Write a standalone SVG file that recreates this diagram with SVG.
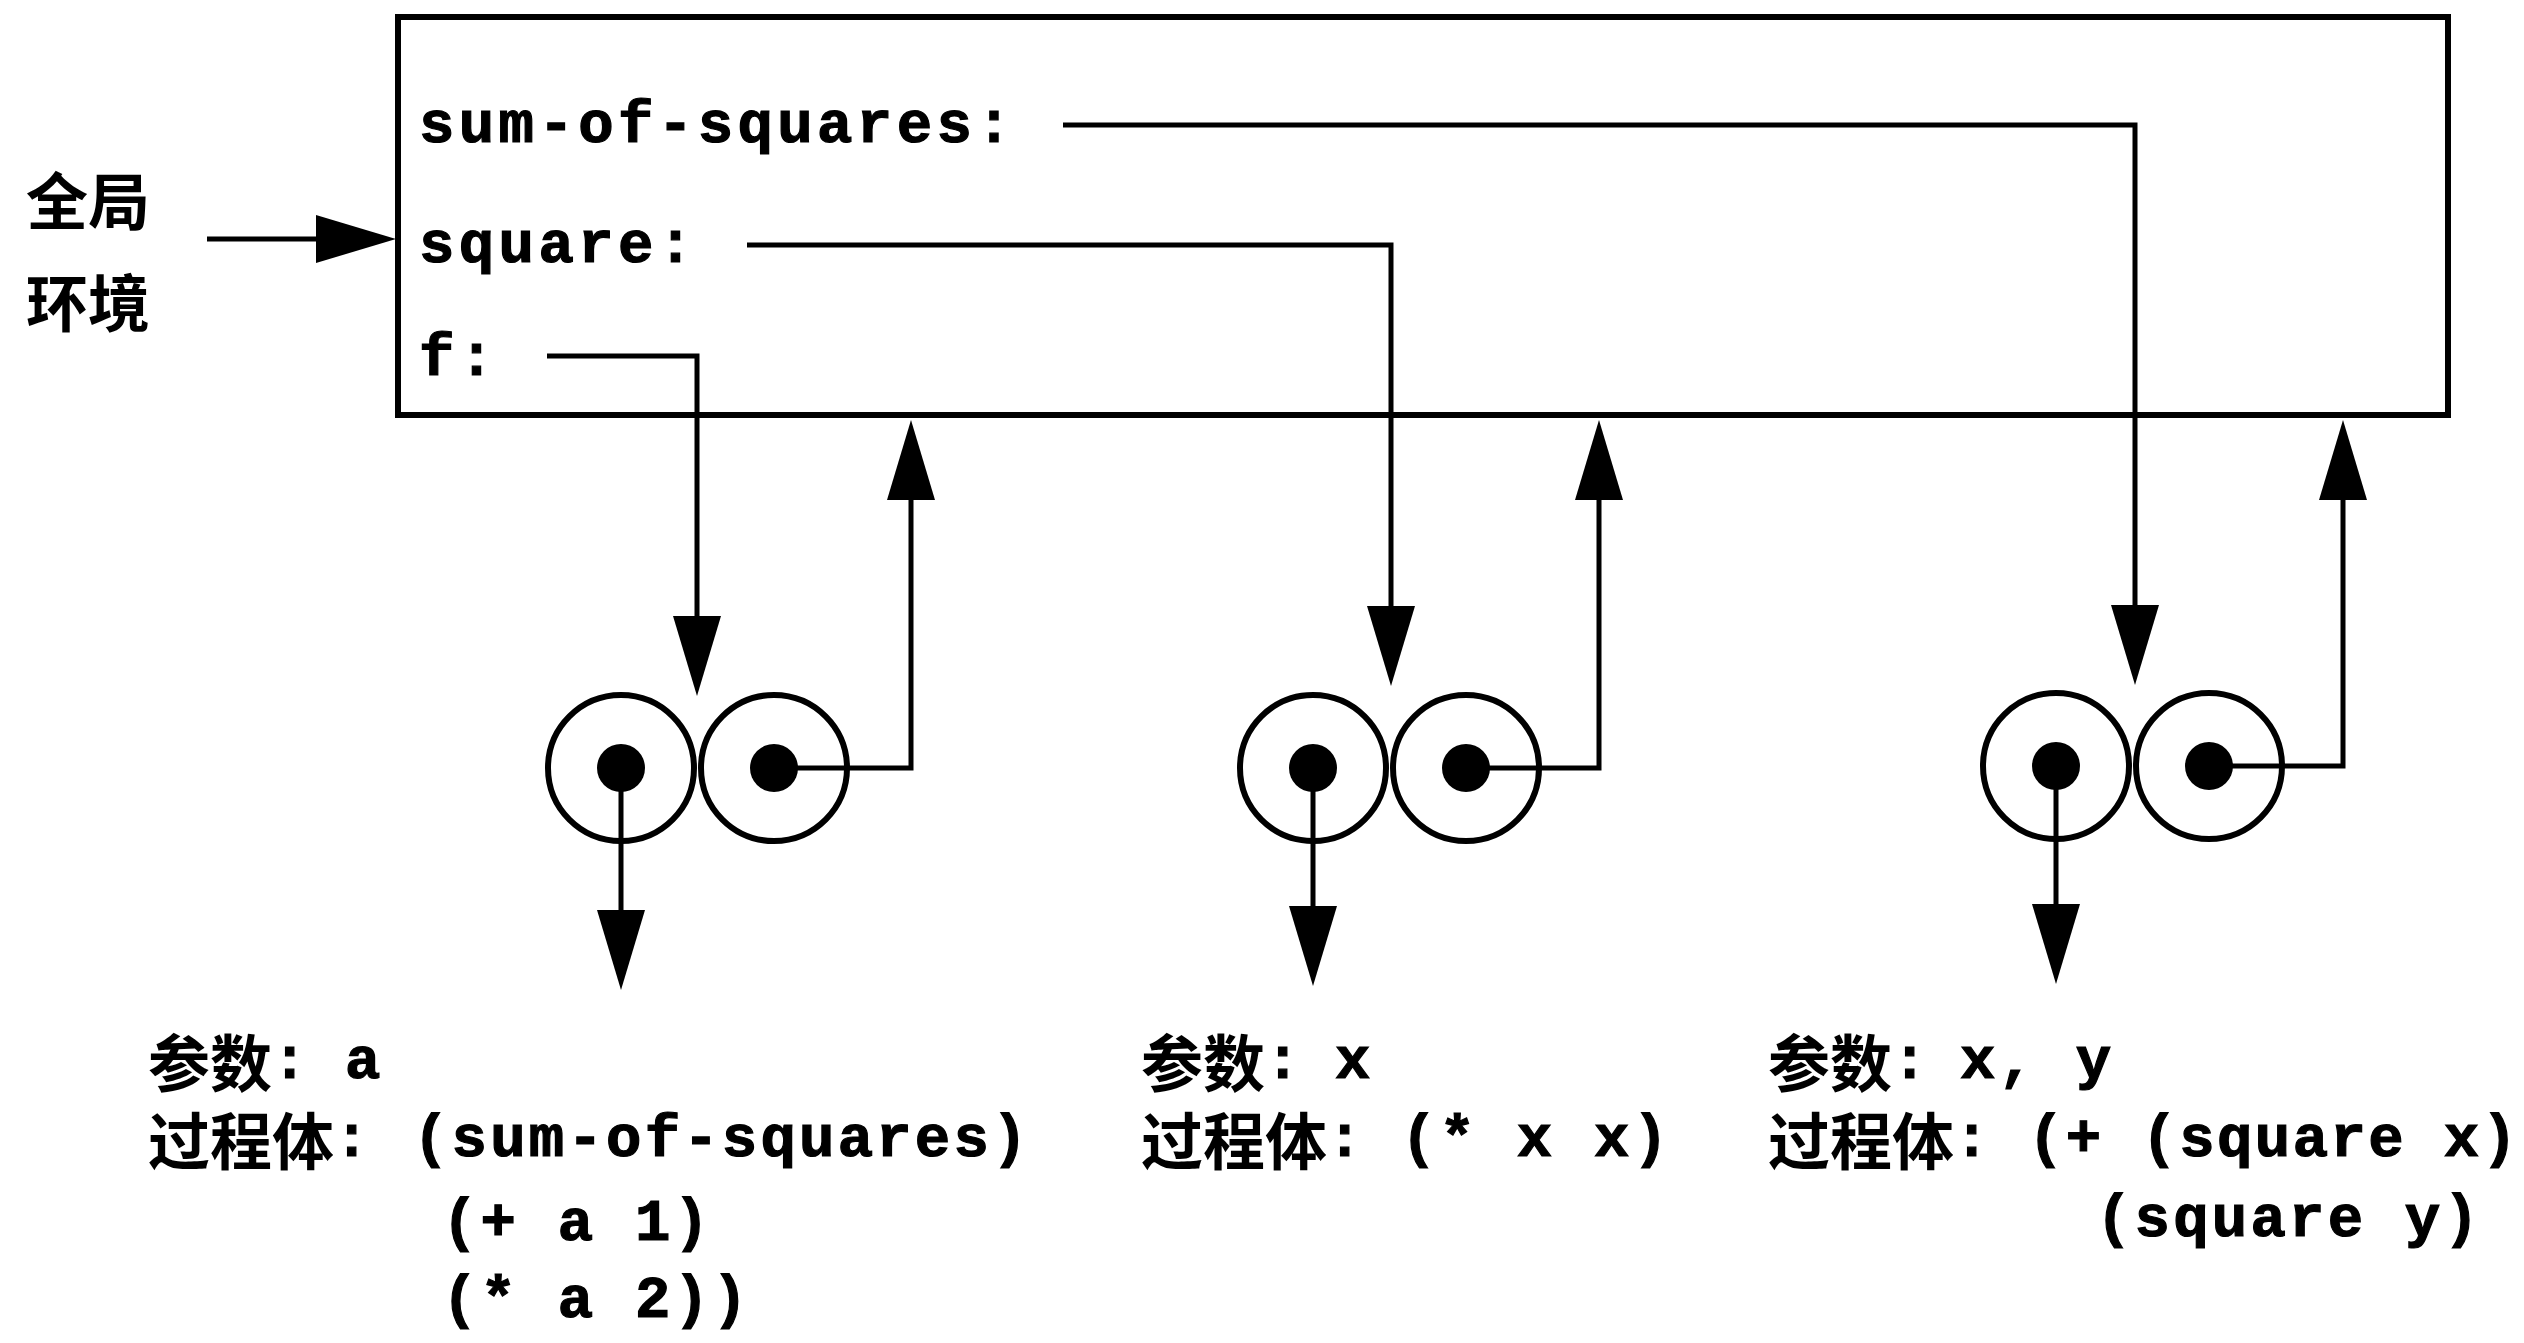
<svg xmlns="http://www.w3.org/2000/svg" width="2524" height="1343" viewBox="0 0 2524 1343">
<style>
.mono{font-family:"Liberation Mono","DejaVu Sans Mono",monospace;font-weight:bold;font-size:59px;fill:#000;stroke:#000;stroke-width:1.2px}
.top{letter-spacing:4.4px}
.bot{letter-spacing:3.2px}
.cjk{font-family:"Noto Sans CJK SC","Noto Sans CJK JP",sans-serif;font-weight:bold;font-size:62px;fill:#000}
.frame{fill:none;stroke:#000;stroke-width:6}
.ring{fill:#fff;stroke:#000;stroke-width:6}
.dot{fill:#000}
.wire{fill:none;stroke:#000;stroke-width:5;marker-end:url(#ah)}
</style>
<defs>
<marker id="ah" markerUnits="userSpaceOnUse" markerWidth="82" markerHeight="50" refX="2" refY="24" orient="auto" overflow="visible">
<path d="M0,0 L80,24 L0,48 Z" fill="#000"/>
</marker>
</defs>
<rect width="2524" height="1343" fill="#fff"/>

<g id="global-label">
<text class="cjk" x="26" y="225">全局</text>
<text class="cjk" x="26" y="327">环境</text>
</g>

<g id="global-env">
<rect class="frame" x="398" y="17" width="2050" height="398"/>
<text class="mono top" x="419" y="142">sum-of-squares:</text>
<text class="mono top" x="419" y="262">square:</text>
<text class="mono top" x="419" y="375">f:</text>
</g>

<g id="proc-f">
<circle class="ring" cx="621" cy="768" r="73"/>
<circle class="ring" cx="774" cy="768" r="73"/>
<circle class="dot" cx="621" cy="768" r="24"/>
<circle class="dot" cx="774" cy="768" r="24"/>
</g>
<g id="proc-square">
<circle class="ring" cx="1313" cy="768" r="73"/>
<circle class="ring" cx="1466" cy="768" r="73"/>
<circle class="dot" cx="1313" cy="768" r="24"/>
<circle class="dot" cx="1466" cy="768" r="24"/>
</g>
<g id="proc-sum">
<circle class="ring" cx="2056" cy="766" r="73"/>
<circle class="ring" cx="2209" cy="766" r="73"/>
<circle class="dot" cx="2056" cy="766" r="24"/>
<circle class="dot" cx="2209" cy="766" r="24"/>
</g>

<g id="text-f">
<text class="cjk" x="148" y="1087">参数<tspan class="mono" dy="-9">:</tspan><tspan class="mono" x="345">a</tspan></text>
<text class="cjk" x="148" y="1165">过程体<tspan class="mono" dy="-9">:</tspan><tspan class="mono bot" x="413">(sum-of-squares)</tspan></text>
<text class="mono bot" x="442" y="1240">(+ a 1)</text>
<text class="mono bot" x="442" y="1317">(* a 2))</text>
</g>
<g id="text-square">
<text class="cjk" x="1141" y="1087">参数<tspan class="mono" dy="-9">:</tspan><tspan class="mono" x="1335">x</tspan></text>
<text class="cjk" x="1141" y="1165">过程体<tspan class="mono" dy="-9">:</tspan><tspan class="mono bot" x="1401">(* x x)</tspan></text>
</g>
<g id="text-sum">
<text class="cjk" x="1768" y="1087">参数<tspan class="mono" dy="-9">:</tspan><tspan class="mono bot" x="1960">x, y</tspan></text>
<text class="cjk" x="1768" y="1165">过程体<tspan class="mono" dy="-9">:</tspan><tspan class="mono" x="2028" style="letter-spacing:2.4px">(+ (square x)</tspan></text>
<text class="mono bot" x="2096" y="1236">(square y)</text>
</g>

<g id="connectors">
<path class="wire" d="M207,239 L318,239"/>
<path class="wire" d="M547,356 L697,356 L697,618"/>
<path class="wire" d="M747,245 L1391,245 L1391,608"/>
<path class="wire" d="M1063,125 L2135,125 L2135,607"/>
<path class="wire" d="M774,768 L911,768 L911,498"/>
<path class="wire" d="M1466,768 L1599,768 L1599,498"/>
<path class="wire" d="M2209,766 L2343,766 L2343,498"/>
<path class="wire" d="M621,768 L621,912"/>
<path class="wire" d="M1313,768 L1313,908"/>
<path class="wire" d="M2056,766 L2056,906"/>
</g>
</svg>
